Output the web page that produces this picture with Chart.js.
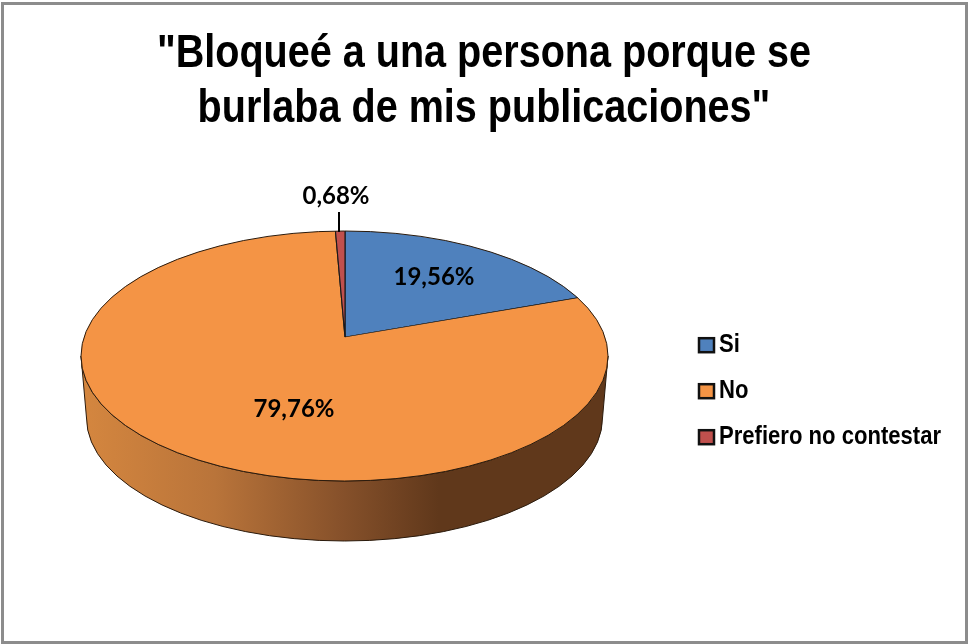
<!DOCTYPE html>
<html>
<head>
<meta charset="utf-8">
<script src="https://cdn.jsdelivr.net/npm/chart.js@4"></script>
<style>
  html, body { margin: 0; background: #fff; overflow: hidden; }
  canvas { position: absolute; left: 0; top: 0; }
  #frame { position: absolute; left: 1px; top: 2px; width: 967px; height: 642px; box-sizing: border-box; border: 3px solid #8c8c8c; pointer-events: none; }
</style>
</head>
<body>
<canvas id="pie" width="968" height="644"></canvas>
<div id="frame"></div>
<script>
// --- Data ---
const categories = ["Si", "No", "Prefiero no contestar"];
const values = [19.56, 79.76, 0.68];
const colors = ["#4f81bd", "#f49445", "#c0504d"];
const titleLines = ['"Bloqueé a una persona porque se', 'burlaba de mis publicaciones"'];

// --- 3D look: arcs are squashed around the apex and clipped to the top ellipse ---
const apex = { x: 345, y: 337 };
const top3d = { x: 344.5, y: 356, rx: 263.5, ry: 125 };
const bottom3d = { x: 344.5, y: 418, rx: 258, ry: 123 };
const squash = 0.474;
const reach = 330;
const labelSpots = [[434, 277], [294, 409], [336, 196]];

// reference text is a horizontally squeezed Arial
const titleSqueeze = 0.86;
const legendSqueeze = 0.883;
const legendTextX = 719;
const legendFontSize = 25;
const legendKeyGap = 6;

const fmt = v => v.toFixed(2).replace(".", ",") + "%";

const pie3d = {
  id: "pie3d",
  beforeDatasetsDraw(chart) {
    const ctx = chart.ctx;
    const arc = chart.getDatasetMeta(0).data[0];

    // side wall
    const g = ctx.createLinearGradient(85, 0, 605, 0);
    g.addColorStop(0, "#d4863f");
    g.addColorStop(0.25, "#b9743a");
    g.addColorStop(0.5, "#85502a");
    g.addColorStop(0.68, "#60381b");
    g.addColorStop(1, "#60381b");
    ctx.save();
    ctx.beginPath();
    ctx.ellipse(top3d.x, top3d.y, top3d.rx, top3d.ry, 0, Math.PI, 0, true);
    ctx.ellipse(bottom3d.x, bottom3d.y, bottom3d.rx, bottom3d.ry, 0, 0, Math.PI, false);
    ctx.closePath();
    ctx.fillStyle = g;
    ctx.fill();
    ctx.strokeStyle = "#2a1a0c";
    ctx.lineWidth = 1;
    ctx.stroke();
    ctx.restore();

    // top face
    ctx.save();
    ctx.beginPath();
    ctx.ellipse(top3d.x, top3d.y, top3d.rx, top3d.ry, 0, 0, Math.PI * 2);
    ctx.clip();
    const k = reach / arc.outerRadius;
    ctx.translate(apex.x, apex.y);
    ctx.scale(k, k * squash);
    ctx.translate(-arc.x, -arc.y);
  },
  afterDatasetsDraw(chart) {
    const ctx = chart.ctx;
    ctx.restore();

    ctx.beginPath();
    ctx.ellipse(top3d.x, top3d.y, top3d.rx, top3d.ry, 0, 0, Math.PI * 2);
    ctx.strokeStyle = "#2a1a0c";
    ctx.lineWidth = 1;
    ctx.stroke();

    // leader line for the small slice
    ctx.beginPath();
    ctx.moveTo(339, 212);
    ctx.lineTo(339, 232);
    ctx.strokeStyle = "#000";
    ctx.lineWidth = 2;
    ctx.stroke();

    // value labels
    ctx.font = "bold 24px Lato";
    ctx.fillStyle = "#000";
    ctx.textAlign = "center";
    ctx.textBaseline = "middle";
    values.forEach((v, i) => ctx.fillText(fmt(v), labelSpots[i][0], labelSpots[i][1]));
  },
  afterLayout(chart) {
    const ctx = chart.ctx;
    const title = chart.titleBlock;
    if (!title.squeezed) {
      const drawTitle = title.draw;
      title.draw = function () {
        const cx = (this.left + this.right) / 2;
        ctx.save();
        ctx.translate(cx, 0);
        ctx.scale(titleSqueeze, 1);
        ctx.translate(-cx, 0);
        drawTitle.call(this);
        ctx.restore();
      };
      title.squeezed = true;
    }
    const legend = chart.legend;
    if (!legend.squeezed) {
      const drawLegend = legend.draw;
      legend.draw = function () {
        const hits = this.legendHitBoxes;
        const textLeft = hits[0].left + legendKeyGap + legendFontSize / 2;
        ctx.save();
        ctx.translate(legendTextX, 0);
        ctx.scale(legendSqueeze, 1);
        ctx.translate(-textLeft, 0);
        drawLegend.call(this);
        ctx.restore();
        // colour keys sit closer to the text than the library allows
        hits.forEach((h, i) => {
          ctx.fillStyle = colors[i];
          ctx.strokeStyle = "#111";
          ctx.lineWidth = 2.5;
          ctx.fillRect(699, h.top + h.height / 2 - 7, 15, 14);
          ctx.strokeRect(699, h.top + h.height / 2 - 7, 15, 14);
        });
      };
      legend.squeezed = true;
    }
  }
};

new Chart(document.getElementById("pie"), {
  type: "pie",
  data: {
    labels: categories,
    datasets: [{
      data: values,
      backgroundColor: colors,
      borderColor: "#1a1a1a",
      borderWidth: 0.8,
      clip: false
    }]
  },
  options: {
    responsive: false,
    animation: false,
    layout: { padding: { bottom: 20 } },
    plugins: {
      tooltip: { enabled: false },
      title: {
        display: true,
        text: titleLines,
        color: "#000",
        font: { family: "'Liberation Sans'", size: 46, weight: "bold", lineHeight: 1.2 },
        padding: { top: 27, bottom: 21 }
      },
      legend: {
        position: "right",
        fullSize: false,
        labels: {
          color: "#000",
          font: { family: "'Liberation Sans'", size: legendFontSize, weight: "bold" },
          boxWidth: legendKeyGap,
          boxHeight: 14,
          padding: 21,
          generateLabels(chart) {
            return Chart.overrides.doughnut.plugins.legend.labels.generateLabels(chart).map(l => {
              l.fillStyle = "transparent";
              l.strokeStyle = "transparent";
              l.lineWidth = 0;
              return l;
            });
          }
        }
      }
    }
  },
  plugins: [pie3d]
});
</script>
</body>
</html>
